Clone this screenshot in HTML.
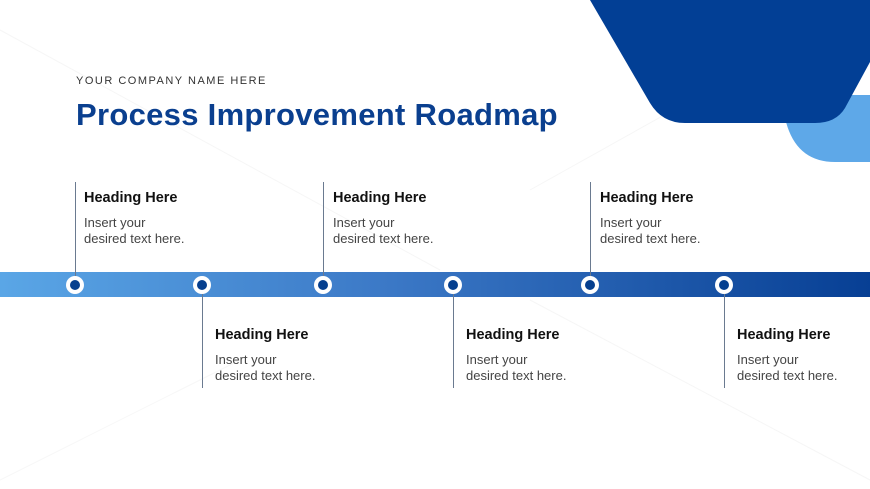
<!DOCTYPE html>
<html><head><style>
body{margin:0;width:870px;height:489px;overflow:hidden;background:#fff;font-family:"Liberation Sans",sans-serif;position:relative}
.a{position:absolute}
.h{font-weight:bold;font-size:14.5px;color:#111}
.t{font-size:13px;color:#444;line-height:16px}
.v{position:absolute;width:1px;background:#6a7a90}
</style></head><body>
<svg class="a" style="left:0;top:0" width="870" height="489">
<line x1="0" y1="30" x2="440" y2="270" stroke="#f6f6f6"/>
<line x1="530" y1="190" x2="870" y2="0" stroke="#f6f6f6"/>
<line x1="530" y1="300" x2="870" y2="480" stroke="#f6f6f6"/>
<line x1="0" y1="480" x2="240" y2="360" stroke="#f7f7f7"/>
<path d="M785 95 L870 95 L870 162 L835 162 Q795 162 785 118 Z" fill="#5ea8e8"/>
<path d="M590 0 L870 0 L870 62 L845 108 Q836 123 815 123 L685 123 Q662 123 650 103 Z" fill="#023f95"/>
<defs><linearGradient id="g" x1="0" x2="1"><stop offset="0" stop-color="#5aa6e6"/><stop offset="0.45" stop-color="#3b78c6"/><stop offset="1" stop-color="#073f94"/></linearGradient></defs>
<rect x="0" y="272" width="870" height="25" fill="url(#g)"/>
<g fill="#fff"><circle cx="75" cy="285" r="9"/><circle cx="202" cy="285" r="9"/><circle cx="323" cy="285" r="9"/><circle cx="453" cy="285" r="9"/><circle cx="590" cy="285" r="9"/><circle cx="724" cy="285" r="9"/></g>
<g fill="#053f8f"><circle cx="75" cy="285" r="5"/><circle cx="202" cy="285" r="5"/><circle cx="323" cy="285" r="5"/><circle cx="453" cy="285" r="5"/><circle cx="590" cy="285" r="5"/><circle cx="724" cy="285" r="5"/></g>
</svg>
<div class="a" style="left:76px;top:75px;font-size:11px;letter-spacing:1.5px;color:#333">YOUR COMPANY NAME HERE</div>
<div class="a" style="left:76px;top:97px;font-size:31px;font-weight:bold;color:#0a3f8f;letter-spacing:0.3px">Process Improvement Roadmap</div>
<div class="v" style="left:75px;top:182px;height:94px"></div>
<div class="v" style="left:323px;top:182px;height:94px"></div>
<div class="v" style="left:590px;top:182px;height:94px"></div>
<div class="v" style="left:202px;top:294px;height:94px"></div>
<div class="v" style="left:453px;top:294px;height:94px"></div>
<div class="v" style="left:724px;top:294px;height:94px"></div>
<div class="a" style="left:84px;top:190px"><div class="h">Heading Here</div><div class="t" style="margin-top:9px">Insert your<br>desired text here.</div></div>
<div class="a" style="left:333px;top:190px"><div class="h">Heading Here</div><div class="t" style="margin-top:9px">Insert your<br>desired text here.</div></div>
<div class="a" style="left:600px;top:190px"><div class="h">Heading Here</div><div class="t" style="margin-top:9px">Insert your<br>desired text here.</div></div>
<div class="a" style="left:215px;top:327px"><div class="h">Heading Here</div><div class="t" style="margin-top:9px">Insert your<br>desired text here.</div></div>
<div class="a" style="left:466px;top:327px"><div class="h">Heading Here</div><div class="t" style="margin-top:9px">Insert your<br>desired text here.</div></div>
<div class="a" style="left:737px;top:327px"><div class="h">Heading Here</div><div class="t" style="margin-top:9px">Insert your<br>desired text here.</div></div>
</body></html>
